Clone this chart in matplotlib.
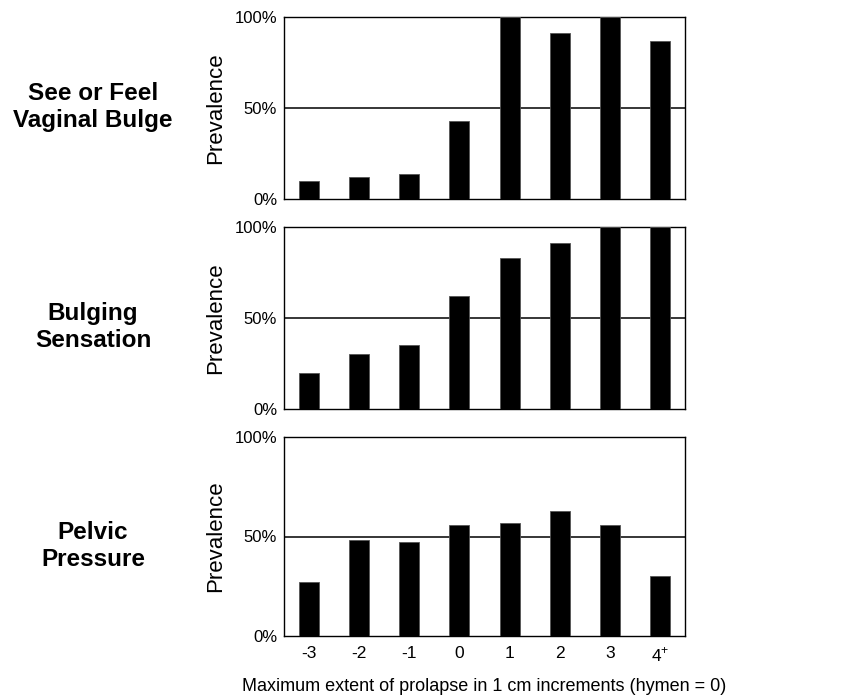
import matplotlib
matplotlib.use("Agg")
from matplotlib import pyplot as plt

plt.rcParams["font.family"] = ["Liberation Sans", "DejaVu Sans"]
plt.rcParams["mathtext.fontset"] = "custom"
plt.rcParams["mathtext.rm"] = "Liberation Sans"

# ==================== Data ====================
categories = ["-3", "-2", "-1", "0", "1", "2", "3", "4$^{+}$"]
symptoms = ["See or Feel\nVaginal Bulge", "Bulging\nSensation", "Pelvic\nPressure"]
see_feel_bulge = [10, 12, 14, 43, 100, 91, 100, 87]
bulging_sensation = [20, 30, 35, 62, 83, 91, 100, 100]
pelvic_pressure = [27, 48, 47, 56, 57, 63, 56, 30]
series = [see_feel_bulge, bulging_sensation, pelvic_pressure]

# ==================== Plot ====================
W, H = 842, 698
fig = plt.figure(figsize=(W / 100, H / 100), dpi=100)

# panel boxes in pixels: (top, bottom)
panels = [(17, 199), (227, 409), (437, 636)]
left_px, right_px = 284, 685
label_y = [107, 327, 546]

for i, (values, (top, bottom)) in enumerate(zip(series, panels)):
    ax = fig.add_axes([left_px / W, 1 - bottom / H, (right_px - left_px) / W, (bottom - top) / H])
    x = range(len(categories))
    ax.bar(x, values, width=0.4, color="black", edgecolor="#555555", linewidth=0.6, zorder=3)
    ax.axhline(50, color="black", linewidth=1.1, zorder=2)
    ax.set_xlim(-0.5, len(categories) - 0.5)
    ax.set_ylim(0, 100)
    ax.set_yticks([0, 50, 100])
    ax.set_yticklabels(["0%", "50%", "100%"], fontsize=12)
    ax.tick_params(axis="both", length=0, pad=5)
    for s in ax.spines.values():
        s.set_linewidth(1.0)
        s.set_color("black")
    ax.set_ylabel("Prevalence", fontsize=16)
    ax.yaxis.set_label_coords(-0.145, 0.5)
    if i == len(series) - 1:
        ax.set_xticks(list(x))
        ax.set_xticklabels(categories, fontsize=12.5)
        ax.tick_params(axis="x", pad=7)
        ax.set_xlabel("Maximum extent of prolapse in 1 cm increments (hymen = 0)", fontsize=13, labelpad=10)
    else:
        ax.set_xticks([])
    fig.text(93 / W, 1 - label_y[i] / H, symptoms[i], ha="center", va="center",
             fontsize=17.5, fontweight="bold", linespacing=1.25)

plt.savefig("out.png", dpi=100)
